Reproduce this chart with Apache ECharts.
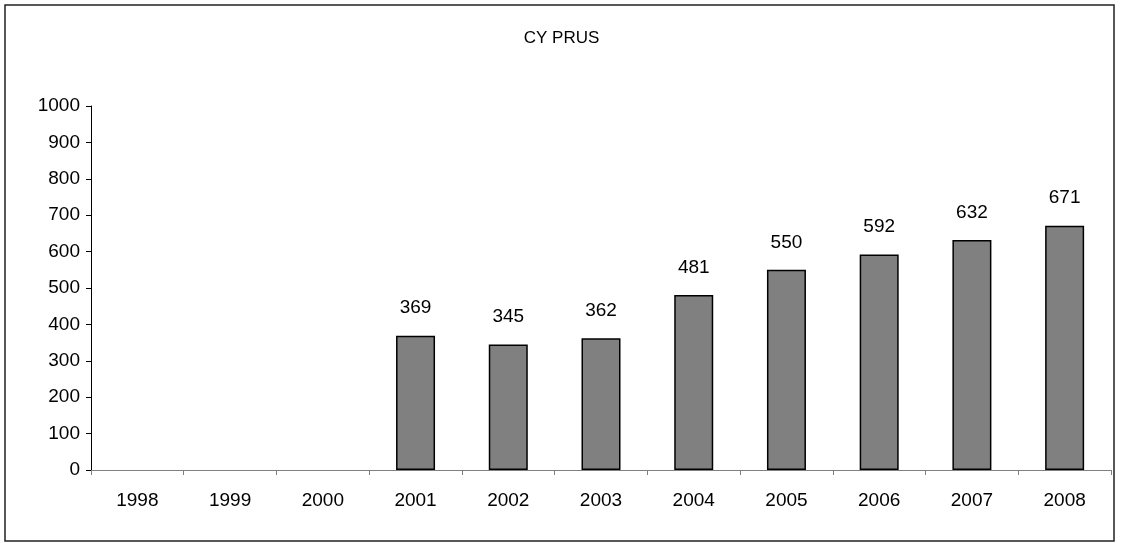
<!DOCTYPE html>
<html>
<head>
<meta charset="utf-8">
<script src="https://cdn.jsdelivr.net/npm/echarts@6/dist/echarts.min.js"></script>
<style>
    html, body { margin: 0; padding: 0; background: #fff; }
    #chart { width: 1123px; height: 543px; }
</style>
</head>
<body>
<div id="chart"></div>
<script>
    // 数据
    const years = ['1998', '1999', '2000', '2001', '2002', '2003', '2004', '2005', '2006', '2007', '2008'];
    const values = [null, null, null, 369, 345, 362, 481, 550, 592, 632, 671];
    const yTicks = [0, 100, 200, 300, 400, 500, 600, 700, 800, 900, 1000];

    const myChart = echarts.init(document.getElementById('chart'), null, { renderer: 'canvas' });
    const font = 'Liberation Sans, Arial, sans-serif';

    const option = {
        animation: false,
        title: {
            text: 'CY PRUS',
            left: 'center',
            top: 25,
            textStyle: { fontFamily: font, fontSize: 17, fontWeight: 'normal', color: '#000' }
        },
        graphic: [{
            type: 'rect',
            shape: { x: 5, y: 5, width: 1109, height: 536 },
            style: { fill: 'none', stroke: '#222', lineWidth: 1.5 },
            silent: true
        }],
        grid: { left: 91, right: 12, top: 106, bottom: 73 },
        xAxis: {
            type: 'category',
            data: years,
            boundaryGap: true,
            axisLine: { show: true, lineStyle: { color: '#808080', width: 1 } },
            axisTick: { show: true, length: 5, alignWithLabel: false, lineStyle: { color: '#808080' } },
            axisLabel: { fontFamily: font, fontSize: 19, color: '#000', margin: 21 },
            splitLine: { show: false }
        },
        yAxis: {
            type: 'value',
            min: yTicks[0],
            max: yTicks[yTicks.length - 1],
            interval: 100,
            axisLine: { show: true, lineStyle: { color: '#000', width: 1 } },
            axisTick: { show: true, length: 5, lineStyle: { color: '#000' } },
            axisLabel: { fontFamily: font, fontSize: 19, color: '#000', margin: 11, formatter: v => String(v) },
            splitLine: { show: false }
        },
        series: [{
            type: 'bar',
            data: values,
            barWidth: 39,
            itemStyle: { color: '#808080', borderColor: '#000', borderWidth: 1.5 },
            label: {
                show: true,
                position: 'top',
                distance: 18,
                fontFamily: font,
                fontSize: 19,
                color: '#000'
            }
        }]
    };
    myChart.setOption(option);
</script>
</body>
</html>
